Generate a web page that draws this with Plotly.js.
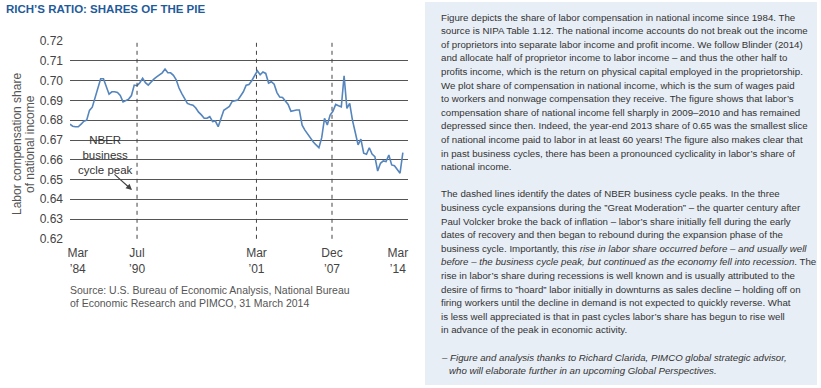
<!DOCTYPE html>
<html>
<head>
<meta charset="utf-8">
<script src="https://cdn.plot.ly/plotly-3.0.1.min.js"></script>
<style>html,body{margin:0;padding:0;background:#fff;}#chart{width:821px;height:388px;}</style>
</head>
<body>
<div id="chart"></div>
<script>
// ---- data ----
const startYear = 1984.5;   // first quarterly observation
const laborShare = [
  0.678, 0.677, 0.6767, 0.6767, 0.678, 0.6795, 0.680, 0.685, 0.6866, 0.691,
  0.696, 0.701, 0.701, 0.6965, 0.6932, 0.6944, 0.6944, 0.694, 0.6925, 0.6893,
  0.6898, 0.6907, 0.6925, 0.6978, 0.6975, 0.699, 0.7012, 0.699, 0.6978, 0.6995,
  0.7008, 0.7019, 0.7028, 0.704, 0.7059, 0.704, 0.704, 0.7027, 0.7005, 0.6963,
  0.6935, 0.6913, 0.6885, 0.688, 0.6876, 0.6862, 0.6841, 0.6827, 0.681, 0.681,
  0.6818, 0.6793, 0.6796,
  0.6767, 0.681, 0.685, 0.686, 0.687, 0.6895, 0.690, 0.6902, 0.6923, 0.6944,
  0.6977, 0.6981, 0.700, 0.7028, 0.705, 0.703, 0.7044, 0.7037, 0.6988, 0.6995,
  0.6982, 0.694, 0.6917, 0.6915, 0.690, 0.688, 0.6845, 0.6849, 0.6852, 0.6852,
  0.6775, 0.675, 0.673, 0.6705, 0.669, 0.6675, 0.6661, 0.6712, 0.681, 0.6776,
  0.6826, 0.6845, 0.688, 0.6873, 0.6868, 0.7025, 0.686, 0.6885, 0.6799, 0.6738,
  0.6675, 0.6704, 0.6633, 0.6628, 0.6661, 0.6629, 0.6616, 0.6543, 0.6582, 0.6594,
  0.6591, 0.6624, 0.6574, 0.657, 0.655, 0.6532, 0.6636
];
const peakDates = [1990.5, 2001.17, 2007.92];   // NBER business cycle peaks
const xTickVals = [1985.2, 1990.5, 2001.17, 2007.92, 2013.8];
const xTickText = ["Mar<br>’84", "Jul<br>’90", "Mar<br>’01", "Dec<br>’07", "Mar<br>’14"];
const yTickVals = [0.62, 0.63, 0.64, 0.65, 0.66, 0.67, 0.68, 0.69, 0.70, 0.71, 0.72];
const nberText = "NBER<br>business<br>cycle peak";
const titleText = "RICH’S RATIO: SHARES OF THE PIE";
const yTitleLines = ["Labor compensation share", "of national income"];
const sourceLines = [
  "Source: U.S. Bureau of Economic Analysis, National Bureau",
  "of Economic Research and PIMCO, 31 March 2014"
];
const boxLines = [
  "Figure depicts the share of labor compensation in national income since 1984. The",
  "source is NIPA Table 1.12. The national income accounts do not break out the income",
  "of proprietors into separate labor income and profit income. We follow Blinder (2014)",
  "and allocate half of proprietor income to labor income – and thus the other half to",
  "profits income, which is the return on physical capital employed in the proprietorship.",
  "We plot share of compensation in national income, which is the sum of wages paid",
  "to workers and nonwage compensation they receive. The figure shows that labor’s",
  "compensation share of national income fell sharply in 2009–2010 and has remained",
  "depressed since then. Indeed, the year-end 2013 share of 0.65 was the smallest slice",
  "of national income paid to labor in at least 60 years! The figure also makes clear that",
  "in past business cycles, there has been a pronounced cyclicality in labor’s share of",
  "national income.",
  "",
  "The dashed lines identify the dates of NBER business cycle peaks. In the three",
  "business cycle expansions during the ”Great Moderation” – the quarter century after",
  "Paul Volcker broke the back of inflation – labor’s share initially fell during the early",
  "dates of recovery and then began to rebound during the expansion phase of the",
  "business cycle. Importantly, this <i>rise in labor share occurred before – and usually well</i>",
  "<i>before – the business cycle peak, but continued as the economy fell into recession</i>. The",
  "rise in labor’s share during recessions is well known and is usually attributed to the",
  "desire of firms to ”hoard” labor initially in downturns as sales decline – holding off on",
  "firing workers until the decline in demand is not expected to quickly reverse. What",
  "is less well appreciated is that in past cycles labor’s share has begun to rise well",
  "in advance of the peak in economic activity.",
  "",
  "<i>– Figure and analysis thanks to Richard Clarida, PIMCO global strategic advisor,</i>",
  "<i>who will elaborate further in an upcoming Global Perspectives.</i>"
];

// ---- layout geometry (pixels) ----
const W = 821, H = 388;
const M = {l: 70, r: 413, t: 41, b: 149};
const PW = W - M.l - M.r, PH = H - M.t - M.b;
const px = x => (x - M.l) / PW;
const py = y => (H - M.b - y) / PH;

const xs = laborShare.map((_, i) => startYear + i * 0.25);

const chartFont = "Liberation Sans, Arial, sans-serif";

const annotations = [];
annotations.push({
  xref: 'paper', yref: 'paper', x: px(105), y: py(154.5),
  text: nberText, showarrow: false, xanchor: 'center', yanchor: 'middle',
  font: {family: chartFont, size: 11.5, color: '#333'}
});
annotations.push({
  xref: 'x', yref: 'y', x: 1990.05, y: 0.6447, ax: -19, ay: -17,
  text: '', showarrow: true, arrowhead: 2, arrowsize: 1, arrowwidth: 1.2,
  arrowcolor: '#444', standoff: 0
});
yTitleLines.forEach((t, i) => annotations.push({
  xref: 'paper', yref: 'paper', x: px(17 + i * 13), y: py(144),
  text: t, showarrow: false, textangle: -90, xanchor: 'center', yanchor: 'middle',
  font: {family: chartFont, size: 12, color: '#555'}
}));
sourceLines.forEach((t, i) => annotations.push({
  xref: 'paper', yref: 'paper', x: px(68), y: py(290 + i * 12.5),
  text: t, showarrow: false, xanchor: 'left', yanchor: 'middle',
  font: {family: chartFont, size: 10.5, color: '#555'}
}));
boxLines.forEach((t, i) => {
  if (!t) return;
  const indent = (i === boxLines.length - 1) ? 8 : 0;
  annotations.push({
    xref: 'paper', yref: 'paper', x: px(439 + indent), y: py(17 + i * 13.6),
    text: t, showarrow: false, xanchor: 'left', yanchor: 'middle',
    font: {family: chartFont, size: 9.7, color: '#333'}
  });
});

const shapes = [{
  type: 'rect', xref: 'paper', yref: 'paper', layer: 'below',
  x0: px(425), x1: px(817), y0: py(385), y1: py(2),
  fillcolor: '#e8eef6', line: {width: 0}
}];
peakDates.forEach(d => shapes.push({
  type: 'line', xref: 'x', yref: 'y', x0: d, x1: d, y0: 0.62, y1: 0.72,
  line: {color: '#444', width: 1, dash: '4px,4px'}
}));

const trace = {
  x: xs, y: laborShare, type: 'scatter', mode: 'lines',
  line: {color: '#5585bd', width: 1.6}, hoverinfo: 'skip'
};

const layout = {
  width: W, height: H, margin: M,
  paper_bgcolor: '#fff', plot_bgcolor: 'rgba(0,0,0,0)',
  showlegend: false,
  title: {
    text: '<b>' + titleText + '</b>', xref: 'container', yref: 'container',
    x: 6 / W, xanchor: 'left', y: 1 - 9 / H, yanchor: 'middle',
    font: {family: chartFont, size: 11.5, color: '#1f5b9a'}
  },
  xaxis: {
    range: [1984.51, 2014.71], showgrid: false, zeroline: false, showline: false,
    tickmode: 'array', tickvals: xTickVals, ticktext: xTickText, ticks: '',
    ticklabelstandoff: 5,
    tickfont: {family: chartFont, size: 12, color: '#444'}
  },
  yaxis: {
    range: [0.6199, 0.7201], tickmode: 'array', tickvals: yTickVals, tickformat: '.2f',
    showgrid: true, gridcolor: '#555', gridwidth: 1, zeroline: false, showline: false,
    ticks: '', ticklabelstandoff: 6,
    tickfont: {family: chartFont, size: 12, color: '#444'}
  },
  shapes: shapes,
  annotations: annotations
};

Plotly.newPlot('chart', [trace], layout, {staticPlot: true, displayModeBar: false});
</script>
</body>
</html>
